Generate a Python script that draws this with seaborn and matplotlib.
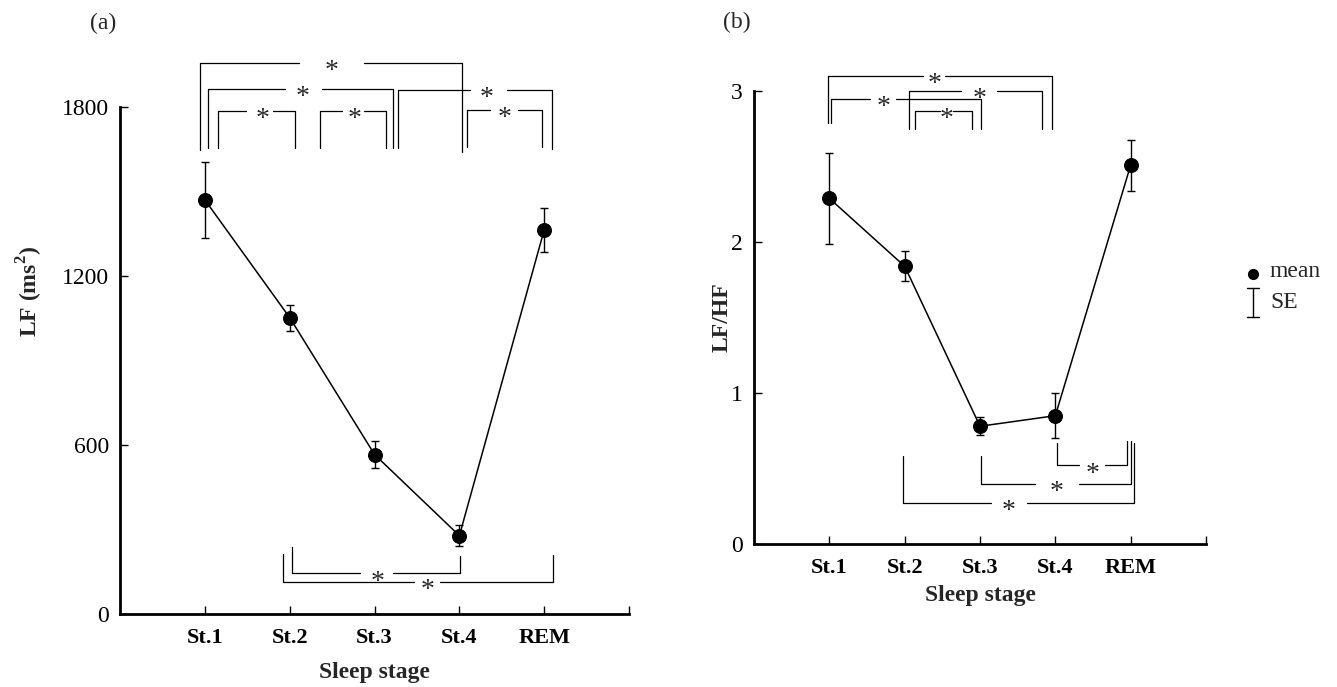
import numpy as np
import pandas as pd
import matplotlib
matplotlib.use('Agg')
import matplotlib.pyplot as plt
import seaborn as sns
from matplotlib.lines import Line2D

# data
stages = ['St.1', 'St.2', 'St.3', 'St.4', 'REM']
lf_mean = [1470, 1052, 566, 278, 1364]
lf_se = [134, 46, 48, 38, 78]
ratio_mean = [2.29, 1.84, 0.78, 0.85, 2.51]
ratio_se = [0.30, 0.10, 0.06, 0.15, 0.17]

# significance brackets: (x1, x2, y, leg1_end, leg2_end, star_x, gap_lo, gap_hi)
lf_brackets = [
    (0.94, 4.03, 1957, 1647, 1640, 2.49, 2.11, 2.87),
    (1.04, 3.22, 1863, 1654, 1654, 2.15, 1.95, 2.38),
    (1.16, 2.06, 1787, 1654, 1654, 1.68, 1.49, 1.80),
    (2.36, 3.13, 1787, 1654, 1654, 2.76, 2.62, 2.87),
    (3.28, 5.09, 1860, 1654, 1650, 4.32, 4.13, 4.56),
    (4.09, 4.97, 1789, 1657, 1657, 4.53, 4.36, 4.69),
    (2.03, 4.01, 144, 238, 206, 3.03, 2.83, 3.22),
    (1.92, 5.10, 115, 213, 209, 3.63, 3.46, 3.77),
]
ratio_brackets = [
    (0.98, 3.95, 3.10, 2.79, 2.75, 2.40, 2.24, 2.53),
    (1.02, 3.01, 2.95, 2.79, 2.75, 1.72, 1.54, 1.89),
    (2.06, 3.82, 3.00, 2.75, 2.75, 2.99, 2.75, 3.22),
    (2.14, 2.90, 2.87, 2.75, 2.75, 2.56, 2.47, 2.64),
    (4.02, 4.95, 0.52, 0.67, 0.68, 4.50, 4.32, 4.66),
    (3.01, 5.00, 0.40, 0.58, 0.68, 4.02, 3.73, 4.31),
    (1.98, 5.05, 0.27, 0.58, 0.67, 3.38, 3.15, 3.62),
]

sns.set_theme(style='ticks')
plt.rcParams['font.family'] = ['Liberation Serif', 'DejaVu Serif']
plt.rcParams['mathtext.fontset'] = 'custom'
plt.rcParams['mathtext.rm'] = 'Liberation Serif'
plt.rcParams['mathtext.bf'] = 'Liberation Serif:bold'

fig = plt.figure(figsize=(13.37, 6.87), dpi=100)
ax1 = fig.add_axes([0.0898, 0.1063, 0.3807, 0.738])
ax2 = fig.add_axes([0.564, 0.2082, 0.338, 0.659])

pos = np.arange(1, len(stages) + 1)


def draw_panel(ax, means, ses, xpad):
    df = pd.DataFrame({'pos': pos, 'val': means})
    ax.errorbar(pos, means, yerr=ses, fmt='none', ecolor='black',
                elinewidth=1.0, capsize=2.6, capthick=1.0, zorder=2)
    sns.lineplot(data=df, x='pos', y='val', ax=ax, color='black',
                 linewidth=1.1, marker='o', markersize=10,
                 markeredgecolor='black', markerfacecolor='black', zorder=3)
    ax.set_xlim(0, 6)
    ax.set_xticks([1, 2, 3, 4, 5, 6])
    ax.set_xticklabels(stages + [''], fontweight='bold', fontsize=16)
    ax.tick_params(axis='both', direction='in', length=6, width=1.0,
                   color='black', labelcolor='black')
    ax.tick_params(axis='y', labelsize=17, pad=8)
    ax.tick_params(axis='x', pad=10)
    for s in ['top', 'right']:
        ax.spines[s].set_visible(False)
    for s in ['left', 'bottom']:
        ax.spines[s].set_linewidth(2.0)
        ax.spines[s].set_color('black')
    ax.set_xlabel('Sleep stage', fontweight='bold', fontsize=17, labelpad=xpad)
    ax.set_facecolor('white')


def draw_brackets(ax, brackets):
    for x1, x2, y, l1, l2, sx, g0, g1 in brackets:
        kw = dict(color='black', linewidth=0.9, clip_on=False, zorder=1)
        ax.plot([x1, x1, g0], [l1, y, y], **kw)
        ax.plot([g1, x2, x2], [y, y, l2], **kw)
        ax.annotate('*', xy=(sx, y), xytext=(0, -6.3),
                    textcoords='offset points', ha='center', va='center',
                    fontsize=20, annotation_clip=False)


draw_panel(ax1, lf_mean, lf_se, 10)
ax1.set_ylim(0, 1800)
ax1.set_yticks([0, 600, 1200, 1800])
ax1.set_ylabel(r'LF (ms$^\mathbf{2}$)', fontweight='bold', fontsize=17)
ax1.yaxis.set_label_coords(-0.148, 0.635)
draw_brackets(ax1, lf_brackets)

draw_panel(ax2, ratio_mean, ratio_se, 5)
ax2.set_ylim(0, 3)
ax2.set_yticks([0, 1, 2, 3])
ax2.set_ylabel('LF/HF', fontweight='bold', fontsize=17)
ax2.yaxis.set_label_coords(-0.047, 0.5)
draw_brackets(ax2, ratio_brackets)

fig.text(103 / 1337, 1 - 23 / 687, '(a)', ha='center', va='center', fontsize=17)
fig.text(737 / 1337, 1 - 22 / 687, '(b)', ha='center', va='center', fontsize=17)

# legend drawn by hand
W, H = 1337, 687
fig.add_artist(Line2D([1253 / W], [1 - 274 / H], marker='o', markersize=7,
                      color='black', linestyle='none'))
fig.add_artist(Line2D([1253 / W, 1253 / W], [1 - 288 / H, 1 - 317 / H],
                      color='black', linewidth=1.0))
for yy in (288, 317):
    fig.add_artist(Line2D([1247 / W, 1259 / W], [1 - yy / H, 1 - yy / H],
                          color='black', linewidth=1.0))
fig.text(1270 / W, 1 - 271 / H, 'mean', ha='left', va='center', fontsize=17)
fig.text(1270 / W, 1 - 302 / H, 'SE', ha='left', va='center', fontsize=17)

fig.savefig('out.png', dpi=100, facecolor='white')
